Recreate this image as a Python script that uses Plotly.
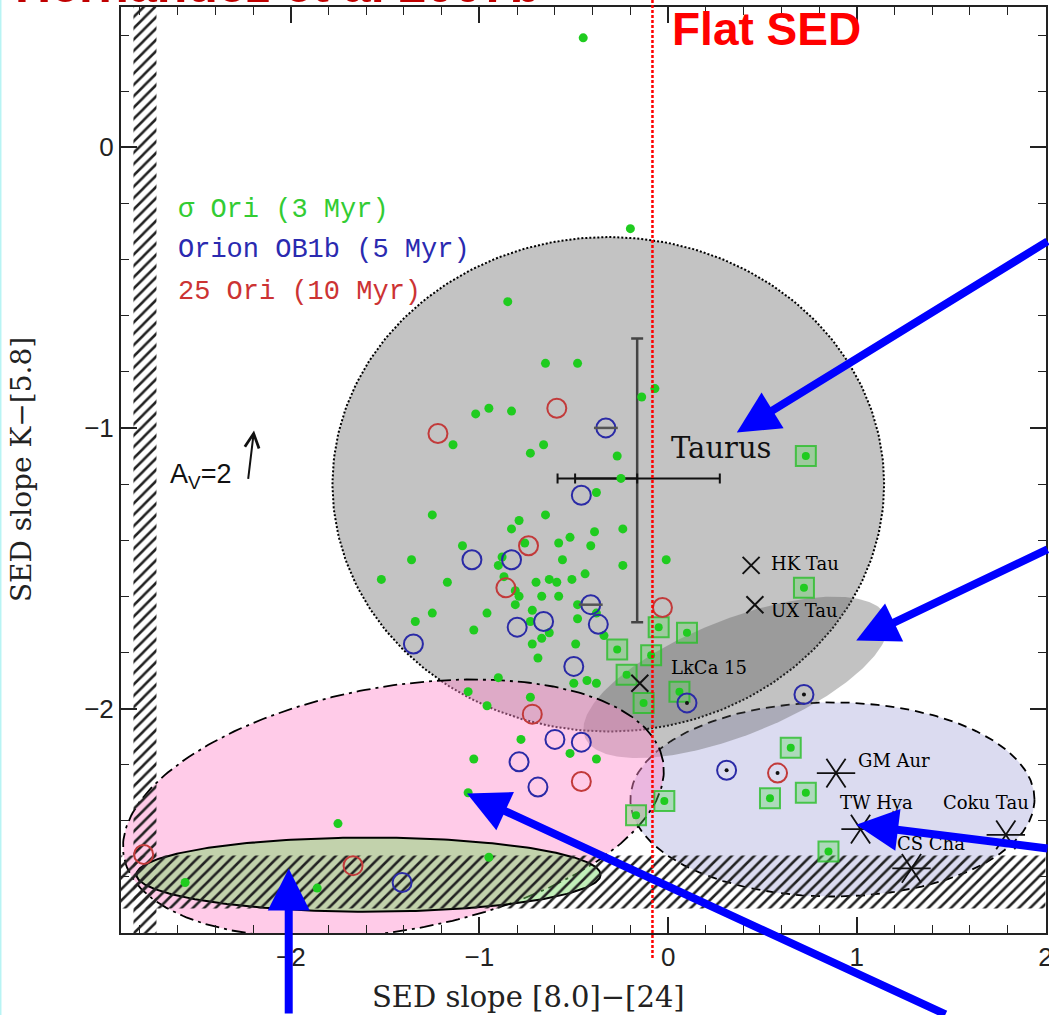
import numpy as np
import plotly.graph_objects as go

# ---------------- data ----------------
# sigma Ori (3 Myr) - filled green dots
sigma_ori_x = [-0.45, -0.20, -0.85, -0.65, -0.48, -0.07, -0.14, -1.02, -0.95, -0.83,
               -1.14, -0.73, -0.66, -0.27, -0.25, -0.38, -1.25, -0.65, -0.79, -0.83,
               -0.24, -0.39, -0.52, -0.58, -0.41, -0.76, -1.09, -1.36, -0.56, -0.01,
               -0.88, -0.90, -0.24, -1.52, -1.17, -0.87, -0.70, -0.63, -0.59, -0.51,
               -0.44, -0.81, -0.79, -0.81, -0.67, -0.58, -0.48, -0.38, -0.72, -0.73,
               -0.63, -1.25, -0.96, -1.34, -0.48, -0.34, -1.03, -0.67, -0.72, -0.49,
               -0.69, -0.90, -0.50, -0.43, -0.38, -1.06, -0.73, -0.96, -0.78, -1.03,
               -0.52, -0.38, -1.06, -0.95, -1.75, -2.56, -1.86]
sigma_ori_y = [0.39, -0.29, -0.55, -0.77, -0.77, -0.86, -0.89, -0.95, -0.93, -0.94,
               -1.06, -1.09, -1.06, -1.10, -1.18, -1.23, -1.31, -1.31, -1.33, -1.36,
               -1.36, -1.37, -1.39, -1.41, -1.42, -1.41, -1.42, -1.47, -1.47, -1.47,
               -1.46, -1.49, -1.49, -1.54, -1.55, -1.53, -1.55, -1.54, -1.55, -1.54,
               -1.52, -1.58, -1.60, -1.63, -1.60, -1.60, -1.63, -1.66, -1.65, -1.69,
               -1.73, -1.66, -1.66, -1.69, -1.68, -1.74, -1.72, -1.75, -1.77, -1.77,
               -1.82, -1.89, -1.91, -1.90, -1.91, -1.94, -1.96, -1.99, -2.11, -2.18,
               -2.16, -2.18, -2.30, -2.53, -2.41, -2.62, -2.64]
# sigma Ori objects marked with a square
sigma_sq_x = [0.73, 0.72, -0.27, -0.05, 0.10, -0.09, -0.22, -0.13, 0.06, -0.02,
              -0.17, 0.65, 0.73, 0.54, 0.85]
sigma_sq_y = [-1.10, -1.57, -1.79, -1.71, -1.73, -1.81, -1.88, -1.98, -1.94, -2.33,
              -2.38, -2.14, -2.30, -2.32, -2.51]
# Orion OB1b (5 Myr) - open blue circles
ob1b_x = [-0.46, -1.04, -0.83, -0.80, -0.66, -0.37, -1.35, -0.50, -0.60, -0.46,
          -0.79, -0.69, -1.41]
ob1b_y = [-1.24, -1.47, -1.47, -1.71, -1.69, -1.70, -1.77, -1.85, -2.11, -2.12,
          -2.19, -2.28, -2.62]
ob1b_bar_x = [-0.33, -0.41]
ob1b_bar_y = [-1.00, -1.63]
ob1b_dot_x = [0.10, 0.72, 0.31]
ob1b_dot_y = [-1.98, -1.95, -2.22]
# 25 Ori (10 Myr) - open red circles
ori25_x = [-0.59, -1.22, -0.74, -0.86, -0.03, -0.72, -0.46, -2.78, -1.67]
ori25_y = [-0.93, -1.02, -1.42, -1.57, -1.64, -2.02, -2.26, -2.52, -2.56]
ori25_dot_x = [0.58]
ori25_dot_y = [-2.23]
# Named objects
cross_names = ["HK Tau", "UX Tau", "LkCa 15"]
cross_x = [0.44, 0.46, -0.15]
cross_y = [-1.49, -1.63, -1.91]
star_names = ["GM Aur", "TW Hya", "Coku Tau", "CS Cha"]
star_x = [0.89, 1.02, 1.79, 1.29]
star_y = [-2.23, -2.43, -2.45, -2.57]
# Taurus median and spread
taurus_x = [-0.164]
taurus_y = [-1.180]
taurus_xerr_plus = [0.438]
taurus_xerr_minus = [0.422]
taurus_xerr_inner = [0.329]
taurus_yerr_plus = [0.499]
taurus_yerr_minus = [0.513]
flat_sed_x = -0.083

# ---------------- layout helpers ----------------
# ellipses: centre, first half-axis vector, second half-axis vector (data units)
region_taurus = dict(c=(-0.317, -1.201), u=(1.462, 0.0), v=(0.0, 0.881))
region_trans = dict(c=(0.359, -1.889), u=(0.800, 0.214), v=(-0.113, 0.192))
region_pink = dict(c=(-1.456, -2.357), u=(1.429, 0.170), v=(-0.112, 0.428))
region_green = dict(c=(-1.588, -2.592), u=(1.230, 0.0), v=(0.0, 0.132))
region_lav = dict(c=(0.871, -2.324), u=(1.071, 0.0), v=(0.0, 0.346))
hatch_left = dict(x=(-2.834, -2.712), y=(-2.8, 0.5))
hatch_bottom = dict(x=(-2.9, 2.0), y=(-2.713, -2.524))

XR = [-2.9, 2.003]
YR = [-2.8, 0.5]


def ellipse(r, n=300):
    t = np.linspace(0, 2 * np.pi, n)
    x = r["c"][0] + r["u"][0] * np.cos(t) + r["v"][0] * np.sin(t)
    y = r["c"][1] + r["u"][1] * np.cos(t) + r["v"][1] * np.sin(t)
    return x, y


def rect(r):
    x0, x1 = r["x"]
    y0, y1 = r["y"]
    return [x0, x1, x1, x0, x0], [y0, y0, y1, y1, y0]


fig = go.Figure()


def region(r, fill, line):
    x, y = ellipse(r)
    fig.add_trace(go.Scatter(x=x, y=y, mode="lines", fill="toself", fillcolor=fill,
                             line=line, hoverinfo="skip", showlegend=False))


region(region_taurus, "#c3c3c3", dict(color="black", width=2, dash="2px,2px"))
region(region_lav, "rgba(160,160,215,0.38)", dict(color="black", width=1.8, dash="9px,6px"))
region(region_trans, "rgba(85,85,85,0.36)", dict(width=0))
region(region_pink, "rgba(255,140,205,0.45)", dict(color="black", width=1.8, dash="14px,5px,3px,5px"))
region(region_green, "rgba(120,220,100,0.45)", dict(color="black", width=2))

for h in (hatch_left, hatch_bottom):
    hx, hy = rect(h)
    fig.add_trace(go.Scatter(x=hx, y=hy, mode="lines", fill="toself",
                             fillcolor="rgba(0,0,0,0)", line=dict(width=0),
                             fillpattern=dict(shape="/", fgcolor="#222",
                                              bgcolor="rgba(0,0,0,0)", size=8,
                                              solidity=0.32, fillmode="replace"),
                             hoverinfo="skip", showlegend=False))

# Taurus error cross
fig.add_trace(go.Scatter(x=taurus_x, y=taurus_y, mode="markers",
                         marker=dict(size=1, color="rgba(0,0,0,0)"),
                         error_x=dict(type="data", symmetric=False, array=taurus_xerr_plus,
                                      arrayminus=taurus_xerr_minus, color="#111",
                                      thickness=2, width=5),
                         error_y=dict(type="data", symmetric=False, array=taurus_yerr_plus,
                                      arrayminus=taurus_yerr_minus, color="#444",
                                      thickness=2.5, width=6),
                         hoverinfo="skip", showlegend=False))
fig.add_trace(go.Scatter(x=taurus_x, y=taurus_y, mode="markers",
                         marker=dict(size=1, color="rgba(0,0,0,0)"),
                         error_x=dict(type="data", symmetric=False, array=[0],
                                      arrayminus=taurus_xerr_inner, color="#111",
                                      thickness=2, width=5),
                         hoverinfo="skip", showlegend=False))

GREEN = "#1fcc1f"
BLUE = "#2a2aa6"
RED = "#c23a3a"


def pts(x, y, **marker):
    fig.add_trace(go.Scatter(x=x, y=y, mode="markers", marker=marker,
                             hoverinfo="skip", showlegend=False))


pts(sigma_ori_x, sigma_ori_y, size=9, color=GREEN, line=dict(width=0))
pts(sigma_sq_x, sigma_sq_y, symbol="square", size=20, color="rgba(90,215,90,0.35)",
    line=dict(width=2, color="rgba(40,190,40,0.8)"))
pts(sigma_sq_x, sigma_sq_y, size=8, color=GREEN, line=dict(width=0))
pts(ob1b_x, ob1b_y, symbol="circle-open", size=19, color=BLUE, line=dict(width=2))
pts(ob1b_bar_x, ob1b_bar_y, symbol="circle-open", size=19, color=BLUE, line=dict(width=2))
pts(ob1b_bar_x, ob1b_bar_y, symbol="line-ew-open", size=17, color="#555", line=dict(width=2.5))
pts(ob1b_dot_x, ob1b_dot_y, symbol="circle-open", size=19, color=BLUE, line=dict(width=2))
pts(ob1b_dot_x, ob1b_dot_y, size=4, color="#111")
pts(ori25_x, ori25_y, symbol="circle-open", size=19, color=RED, line=dict(width=2))
pts(ori25_dot_x, ori25_dot_y, symbol="circle-open", size=19, color=RED, line=dict(width=2))
pts(ori25_dot_x, ori25_dot_y, size=4, color="#111")
pts(cross_x, cross_y, symbol="x-thin-open", size=17, color="#111", line=dict(width=2))
pts(star_x, star_y, symbol="y-up-open", size=24, angle=90, color="#111", line=dict(width=1.8))
pts(star_x, star_y, symbol="y-down-open", size=24, angle=90, color="#111", line=dict(width=1.8))

ann = []
# labels for named objects (left edge, middle)
label_pos = {"HK Tau": (0.533, -1.483), "UX Tau": (0.533, -1.651), "LkCa 15": (0.005, -1.854),
             "GM Aur": (0.997, -2.185), "TW Hya": (0.902, -2.335), "Coku Tau": (1.446, -2.335),
             "CS Cha": (1.203, -2.481)}
for name in cross_names + star_names:
    lx, ly = label_pos[name]
    ann.append(dict(x=lx, y=ly, xref="x", yref="y", text=name, showarrow=False,
                    xanchor="left", yanchor="middle",
                    font=dict(family="DejaVu Serif", size=18, color="#000")))
ann.append(dict(x=0.005, y=-1.073, xref="x", yref="y", text="Taurus", showarrow=False,
                xanchor="left", yanchor="middle",
                font=dict(family="DejaVu Serif", size=29, color="#111")))
# cluster key
for txt, col, yy in [("σ Ori (3 Myr)", "#33cc33", -0.225),
                     ("Orion OB1b (5 Myr)", "#2a2ab0", -0.367),
                     ("25 Ori (10 Myr)", "#cc3333", -0.517)]:
    ann.append(dict(x=-2.607, y=yy, xref="x", yref="y", text=txt, showarrow=False,
                    xanchor="left", yanchor="middle",
                    font=dict(family="Liberation Mono", size=27, color=col)))
# reddening vector
ann.append(dict(x=-2.652, y=-1.172, xref="x", yref="y", text="A<sub>V</sub>=2", showarrow=False,
                xanchor="left", yanchor="middle",
                font=dict(family="Liberation Sans", size=27, color="#111")))
ann.append(dict(x=-2.195, y=-1.009, xref="x", yref="y", ax=-6, ay=50, text="",
                showarrow=True, arrowhead=5, arrowsize=1.4, arrowwidth=2,
                arrowcolor="#111", standoff=0))
# axis titles
ann.append(dict(x=0.44, y=-0.069, xref="paper", yref="paper", text="SED slope [8.0]−[24]",
                showarrow=False, xanchor="center", yanchor="middle",
                font=dict(family="DejaVu Serif", size=29, color="#222")))
ann.append(dict(x=-0.108, y=0.5, xref="paper", yref="paper", text="SED slope K−[5.8]",
                showarrow=False, textangle=-90, xanchor="center", yanchor="middle",
                font=dict(family="DejaVu Serif", size=28, color="#222")))
# headings
ann.append(dict(x=-0.1168, y=0.9915, xref="paper", yref="paper", text="<b>Hernandez et al 2007b</b>",
                showarrow=False, xanchor="left", yanchor="bottom",
                font=dict(family="Liberation Sans", size=50, color="#c00000")))
ann.append(dict(x=0.5935, y=0.976, xref="paper", yref="paper", text="<b>Flat SED</b>",
                showarrow=False, xanchor="left", yanchor="middle",
                font=dict(family="Liberation Sans", size=46, color="#ff0000")))
# blue pointer arrows
for tx, ty, ax, ay in [(0.364, -1.016, 317, -192), (0.997, -1.758, 196, -92),
                       (0.997, -2.414, 196, 24), (-1.066, -2.303, 480, 226),
                       (-2.011, -2.570, 0, 152)]:
    ann.append(dict(x=tx, y=ty, xref="x", yref="y", ax=ax, ay=ay, text="", showarrow=True,
                    arrowhead=2, arrowsize=1.05, arrowwidth=8, arrowcolor="#0000ff", standoff=0))

shapes = [
    dict(type="line", xref="x", yref="paper", x0=flat_sed_x, x1=flat_sed_x, y0=-0.027, y1=1.01,
         line=dict(color="#ff0000", width=2.5, dash="3px,2px")),
    dict(type="line", xref="paper", yref="paper", x0=-0.1303, x1=-0.1303, y0=-0.1, y1=1.02,
         line=dict(color="#b8f4f4", width=2)),
]

axis_common = dict(ticks="inside", ticklen=16, tickwidth=1.5, tickcolor="#222",
                   showline=True, linecolor="#222", linewidth=2, mirror="ticks",
                   showgrid=False, zeroline=False, tickmode="linear", tick0=0, dtick=1,
                   ticklabeloverflow="allow", automargin=False,
                   tickfont=dict(family="Liberation Sans", size=26, color="#222"),
                   minor=dict(dtick=0.2, tick0=0, ticklen=8, tickwidth=1.2, tickcolor="#222",
                              ticks="inside", showgrid=False))

fig.update_layout(
    width=1049, height=1015,
    margin=dict(l=121, r=3, t=7, b=82, autoexpand=False),
    paper_bgcolor="white", plot_bgcolor="white",
    showlegend=False,
    xaxis=dict(range=XR, **axis_common),
    yaxis=dict(range=YR, **axis_common),
    annotations=ann,
    shapes=shapes,
)

fig.write_html("out.html")
